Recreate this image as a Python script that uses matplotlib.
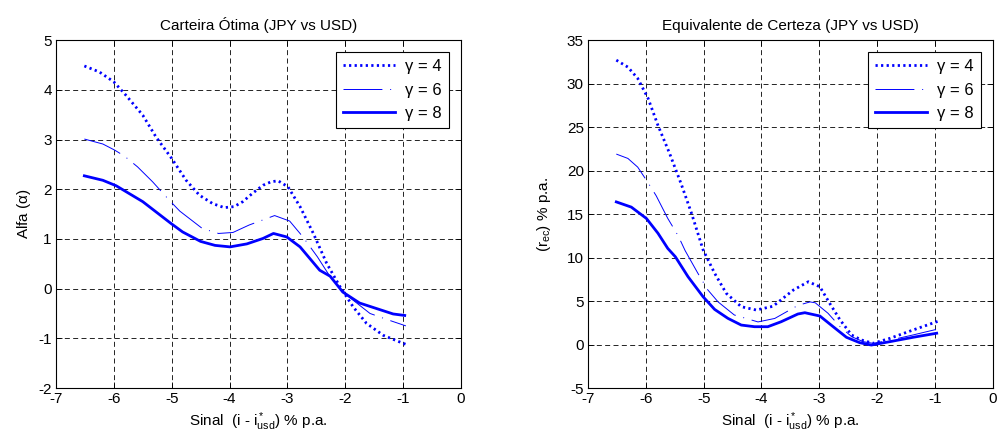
import numpy as np
import matplotlib
matplotlib.use('Agg')
import matplotlib.pyplot as plt

plt.rcParams['font.family'] = ['Liberation Sans', 'DejaVu Sans']
plt.rcParams['mathtext.fontset'] = 'custom'
plt.rcParams['mathtext.rm'] = 'Liberation Sans'
plt.rcParams['mathtext.it'] = 'Liberation Sans'
plt.rcParams['axes.unicode_minus'] = False

# Carteira otima: sinal (i - i*usd) % p.a. vs alfa
alfa_x4 = [-6.51, -6.25, -6.0, -5.79, -5.5, -5.27, -5.0, -4.75, -4.52, -4.29,
           -4.09, -3.92, -3.77, -3.6, -3.42, -3.28, -3.16, -2.99, -2.78, -2.55,
           -2.32, -2.09, -1.86, -1.63, -1.34, -1.0, -0.93]
alfa_g4 = [4.48, 4.36, 4.16, 3.89, 3.49, 3.05, 2.62, 2.18, 1.88, 1.71,
           1.63, 1.65, 1.75, 1.92, 2.08, 2.15, 2.17, 2.05, 1.65, 1.11,
           0.51, 0.04, -0.37, -0.70, -0.94, -1.10, -1.13]

alfa_x6 = [-6.51, -6.19, -5.99, -5.82, -5.59, -5.33, -5.05, -4.86, -4.47, -4.19,
           -3.94, -3.66, -3.22, -2.96, -2.73, -2.48, -2.26, -2.04, -1.80, -1.57,
           -1.28, -0.95]
alfa_g6 = [3.01, 2.91, 2.79, 2.67, 2.45, 2.15, 1.79, 1.56, 1.21, 1.11,
           1.13, 1.28, 1.47, 1.36, 1.04, 0.64, 0.24, -0.07, -0.29, -0.50,
           -0.62, -0.75]

alfa_x8 = [-6.51, -6.19, -5.96, -5.5, -5.01, -4.81, -4.5, -4.25, -3.99, -3.70,
           -3.42, -3.24, -3.01, -2.78, -2.44, -2.26, -2.04, -1.75, -1.46, -1.17,
           -0.97]
alfa_g8 = [2.27, 2.18, 2.07, 1.75, 1.31, 1.14, 0.95, 0.87, 0.84, 0.90,
           1.01, 1.11, 1.04, 0.84, 0.37, 0.25, -0.07, -0.29, -0.40, -0.51,
           -0.54]

# Equivalente de certeza: sinal vs r_ec % p.a.
rec_x4 = [-6.51, -6.31, -6.14, -5.96, -5.79, -5.59, -5.39, -5.21, -5.01, -4.81,
          -4.61, -4.35, -4.09, -3.80, -3.45, -3.19, -2.99, -2.82, -2.64, -2.44,
          -2.27, -2.07, -1.78, -1.38, -0.97, -0.93]
rec_g4 = [32.7, 31.9, 30.6, 28.3, 25.2, 22.0, 18.5, 15.1, 10.9, 8.2,
          5.9, 4.35, 3.97, 4.4, 6.26, 7.22, 6.64, 4.74, 2.82, 1.09,
          0.52, 0.14, 0.71, 1.67, 2.62, 2.7]

rec_x6 = [-6.51, -6.31, -6.14, -5.96, -5.82, -5.62, -5.44, -5.32, -5.10, -4.93,
          -4.75, -4.47, -4.06, -3.77, -3.37, -3.16, -3.07, -2.85, -2.64, -2.44,
          -2.24, -2.07, -1.78, -1.38, -0.97]
rec_g6 = [21.9, 21.4, 20.4, 18.6, 17.1, 14.5, 12.5, 10.8, 8.2, 6.3,
          4.9, 3.4, 2.6, 3.0, 4.5, 4.9, 4.8, 3.6, 2.05, 0.9,
          0.33, 0.14, 0.5, 1.1, 1.75]

rec_x8 = [-6.51, -6.25, -5.99, -5.79, -5.62, -5.49, -5.27, -5.01, -4.81, -4.58,
          -4.35, -4.12, -3.89, -3.66, -3.37, -3.25, -2.99, -2.76, -2.53, -2.30,
          -2.10, -1.78, -1.38, -0.97]
rec_g8 = [16.4, 15.8, 14.5, 12.8, 11.05, 10.1, 7.8, 5.5, 4.04, 3.01,
          2.24, 2.05, 2.05, 2.62, 3.51, 3.66, 3.28, 2.05, 0.83, 0.21,
          -0.06, 0.33, 0.83, 1.30]

labels = [u'\u03b3 = 4', u'\u03b3 = 6', u'\u03b3 = 8']


def draw(ax, series, ylim, yticks, title, ylabel, ylabelpad=4):
    (x4, g4), (x6, g6), (x8, g8) = series
    ax.plot(x4, g4, color='#0000ff', linestyle=(0, (0.8, 1.2)), linewidth=2.0,
            label=labels[0])
    ax.plot(x6, g6, color='#0000ff', linestyle=(0, (40, 8, 1, 8)), linewidth=0.7,
            label=labels[1])
    ax.plot(x8, g8, color='#0000ff', linestyle='-', linewidth=2.0,
            label=labels[2])
    ax.set_xlim(-7, 0)
    ax.set_ylim(*ylim)
    ax.set_xticks(range(-7, 1))
    ax.set_yticks(yticks)
    ax.grid(True, color='k', linestyle=(0, (6, 4)), linewidth=0.6)
    ax.tick_params(direction='in', top=True, right=True, length=4, labelsize=11,
                   width=0.6, pad=3)
    for sp in ax.spines.values():
        sp.set_linewidth(0.8)
    ax.set_title(title, fontsize=11, pad=7)
    ax.set_xlabel(r'Sinal  (i - i$^*_{usd}$) % p.a.', fontsize=11, labelpad=3)
    ax.set_ylabel(ylabel, fontsize=11, labelpad=ylabelpad)
    leg = ax.legend(loc='upper right', fontsize=12, handlelength=3.1,
                    fancybox=False, framealpha=1, edgecolor='k',
                    borderaxespad=0.7, labelspacing=0.5, borderpad=0.45,
                    handletextpad=0.6)
    leg.get_frame().set_linewidth(0.8)


fig = plt.figure(figsize=(10.02, 4.46), dpi=100, facecolor='w')
ax1 = fig.add_axes([0.0559, 0.130, 0.404, 0.780])
ax2 = fig.add_axes([0.5868, 0.130, 0.404, 0.780])

draw(ax1, [(alfa_x4, alfa_g4), (alfa_x6, alfa_g6), (alfa_x8, alfa_g8)],
     (-2, 5), range(-2, 6),
     u'Carteira \u00d3tima (JPY vs USD)', r'Alfa ($\alpha$)')
draw(ax2, [(rec_x4, rec_g4), (rec_x6, rec_g6), (rec_x8, rec_g8)],
     (-5, 35), range(-5, 36, 5),
     'Equivalente de Certeza (JPY vs USD)', r'(r$_{ec}$) % p.a.', ylabelpad=10)

fig.savefig('out.png', dpi=100)
